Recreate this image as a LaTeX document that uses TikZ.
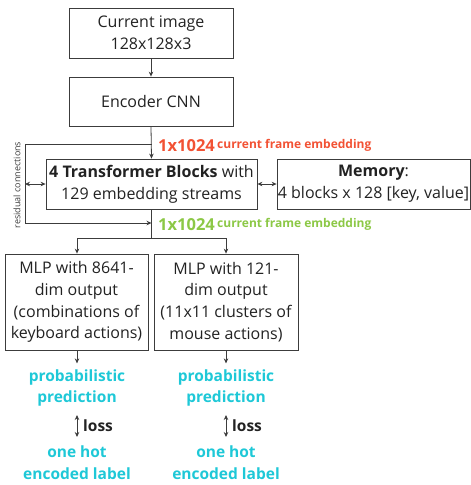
\documentclass[tikz,border=0pt]{standalone}
\usepackage{fontspec}
\setmainfont{Open Sans}
\usetikzlibrary{arrows.meta}
\definecolor{txt}{RGB}{34,34,34}
\definecolor{ln}{RGB}{60,60,60}
\definecolor{redemb}{RGB}{242,82,52}
\definecolor{greenemb}{RGB}{140,200,70}
\definecolor{cyanp}{RGB}{30,200,215}
\tikzset{
  box/.style={draw=ln, line width=0.8pt, inner sep=0pt, align=center, text=txt,
    font=\fontsize{16}{21.7}\selectfont},
  arr/.style={draw=ln, line width=0.8pt, -{Stealth[length=5pt,width=4.5pt]}},
  darr/.style={draw=ln, line width=0.8pt, {Stealth[length=5pt,width=4.5pt]}-{Stealth[length=5pt,width=4.5pt]}},
  ln/.style={draw=ln, line width=0.8pt},
  pred/.style={text=cyanp, align=center, font=\fontsize{15.5}{21.7}\selectfont\bfseries, inner sep=0pt},
  emb/.style={anchor=west, inner sep=0pt},
}
\begin{document}
\begin{tikzpicture}[x=1pt,y=-1pt]
\useasboundingbox (0,0) rectangle (471,485);
\node[box, minimum width=164pt, minimum height=50pt] (img) at (151,33) {Current image\\128x128x3};
\node[box, minimum width=164pt, minimum height=49pt] (enc) at (151,101.5) {Encoder CNN};
\node[box, minimum width=211pt, minimum height=50pt] (tr) at (151.5,184) {\textbf{4 Transformer Blocks} with\\129 embedding streams};
\node[box, minimum width=193pt, minimum height=50pt] (mem) at (373.5,184) {\textbf{Memory}:\\4 blocks x 128 [key, value]};
\node[box, minimum width=143pt, minimum height=96pt] (mlp1) at (76.5,302) {MLP with 8641-\\dim output\\(combinations of\\keyboard actions)};
\node[box, minimum width=144pt, minimum height=96pt] (mlp2) at (226,302) {MLP with 121-\\dim output\\(11x11 clusters of\\mouse actions)};

\node[pred] (pp1) at (77,388) {probabilistic\\prediction};
\node[pred] (pp2) at (226,388) {probabilistic\\prediction};
\node[pred] (oh1) at (77,463) {one hot\\encoded label};
\node[pred] (oh2) at (226,463) {one hot\\encoded label};

\coordinate (l1t) at (77,415);
\coordinate (l1b) at (77,437);
\coordinate (l2t) at (226,415);
\coordinate (l2b) at (226,437);
\draw[darr] (l1t) -- (l1b);
\draw[darr] (l2t) -- (l2b);
\node[emb, text=txt, font=\fontsize{15.5}{18}\selectfont\bfseries] (loss1) at (83,426) {loss};
\node[emb, text=txt, font=\fontsize{15.5}{18}\selectfont\bfseries] (loss2) at (232,426) {loss};

% top arrows
\draw[arr] (img.south) -- (enc.north);
\draw[arr] (enc.south) -- (tr.north);

% residual
\coordinate (r1) at (151.5,144);
\coordinate (r2) at (25,144);
\coordinate (r3) at (25,223);
\coordinate (r4) at (151.5,223);
\coordinate (rm) at (25,184);
\draw[ln] (r1) -- (r2) -- (r3);
\draw[arr] (r3) -- (r4);
\draw[darr] (rm) -- (tr.west);
\draw[darr] (tr.east) -- (mem.west);
\node[rotate=90, text=ln, font=\fontsize{9}{10}\selectfont, inner sep=0pt] (res) at (17,185) {residual connections};

% split
\coordinate (s0) at (151.5,238);
\coordinate (s1) at (77,238);
\coordinate (s2) at (226,238);
\draw[ln] (tr.south) -- (s0);
\draw[ln] (s1) -- (s2);
\draw[arr] (s1) -- (mlp1.north -| s1);
\draw[arr] (s2) -- (mlp2.north -| s2);

% outputs
\draw[arr] (mlp1.south -| pp1) -- ++(0,13);
\draw[arr] (mlp2.south -| pp2) -- ++(0,13);

% embedding labels
\node[emb, text=redemb, font=\fontsize{16.5}{20}\selectfont\bfseries] (e1) at (158,146) {1x1024};
\node[emb, text=redemb, font=\fontsize{12}{14}\selectfont\bfseries] (e1b) at (217,145) {current frame embedding};
\node[emb, text=greenemb, font=\fontsize{16.5}{20}\selectfont\bfseries] (e2) at (158,225) {1x1024};
\node[emb, text=greenemb, font=\fontsize{12}{14}\selectfont\bfseries] (e2b) at (217,224) {current frame embedding};
\end{tikzpicture}
\end{document}
